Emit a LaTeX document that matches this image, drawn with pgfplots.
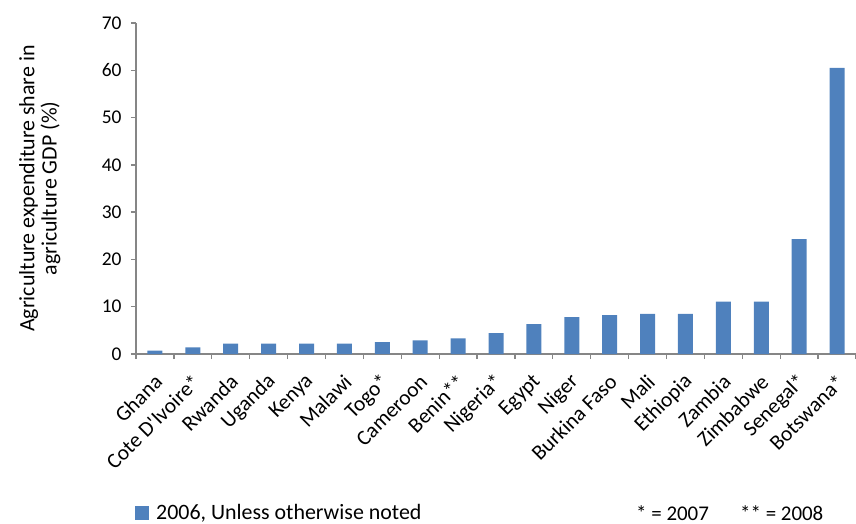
\documentclass[border=0pt]{standalone}
\usepackage{pgfplots}
\pgfplotsset{compat=1.18}
\usepackage{fontspec}
\setmainfont{Carlito}
\definecolor{barblue}{HTML}{4F81BD}
\definecolor{axisgray}{HTML}{868686}

\pgfplotstableread{
x  share
0  0.7
1  1.4
2  2.2
3  2.2
4  2.2
5  2.2
6  2.5
7  2.9
8  3.3
9  4.4
10 6.3
11 7.8
12 8.2
13 8.5
14 8.5
15 11.1
16 11.1
17 24.3
18 60.5
}\agdata

\begin{document}
\begin{tikzpicture}
\path[use as bounding box] (-136bp,-170bp) rectangle (720bp,354bp);
\begin{axis}[
    scale only axis,
    width=720bp, height=331bp,
    xmin=-0.5, xmax=18.5,
    ymin=0, ymax=70,
    ytick={0,10,...,70},
    xtick=data,
    xticklabels={Ghana, Cote D\textquotesingle Ivoire*, Rwanda, Uganda, Kenya, Malawi, Togo*, Cameroon, Benin**, Nigeria*, Egypt, Niger, Burkina Faso, Mali, Ethiopia, Zambia, Zimbabwe, Senegal*, Botswana*},
    minor xtick={-0.5,0.5,...,18.5},
    axis x line=bottom, axis y line=left,
    axis line style={-, draw=axisgray, line width=1.3bp},
    tick align=outside,
    major tick length=5bp, minor tick length=5bp,
    every tick/.style={draw=axisgray, line width=1.3bp},
    major x tick style={draw=none},
    /pgf/number format/assume math mode=true,
    yticklabel style={font=\fontsize{19.5}{22}\selectfont, xshift=-6bp},
    xticklabel style={font=\fontsize{21.5}{24}\selectfont, xshift=6bp, yshift=-17bp, rotate=45, anchor=east},
    ylabel={Agriculture expenditure share in\\agriculture GDP (\%)},
    ylabel style={align=center, at={(rel axis cs:0,0.5)}, anchor=south, yshift=72bp, font=\fontsize{22}{22.5}\selectfont},
    legend style={at={(axis description cs:-0.0014,-0.4804)}, anchor=west, draw=none, inner sep=0pt, font=\fontsize{22}{24}\selectfont},
    legend cell align=left,
    legend image code/.code={\fill[barblue] (-1bp,-7bp) rectangle (13bp,7bp);},
  ]
  \addplot[ybar, bar width=15bp, fill=barblue, draw=none] table[x=x, y=share] {\agdata};
  \addlegendentry{\hspace*{5bp}2006, Unless otherwise noted}
\end{axis}
\node[anchor=west, font=\fontsize{21}{23}\selectfont, inner sep=0pt] at (500bp,-159bp) {* = 2007};
\node[anchor=west, font=\fontsize{21}{23}\selectfont, inner sep=0pt] at (604bp,-159bp) {** = 2008};
\end{tikzpicture}
\end{document}
